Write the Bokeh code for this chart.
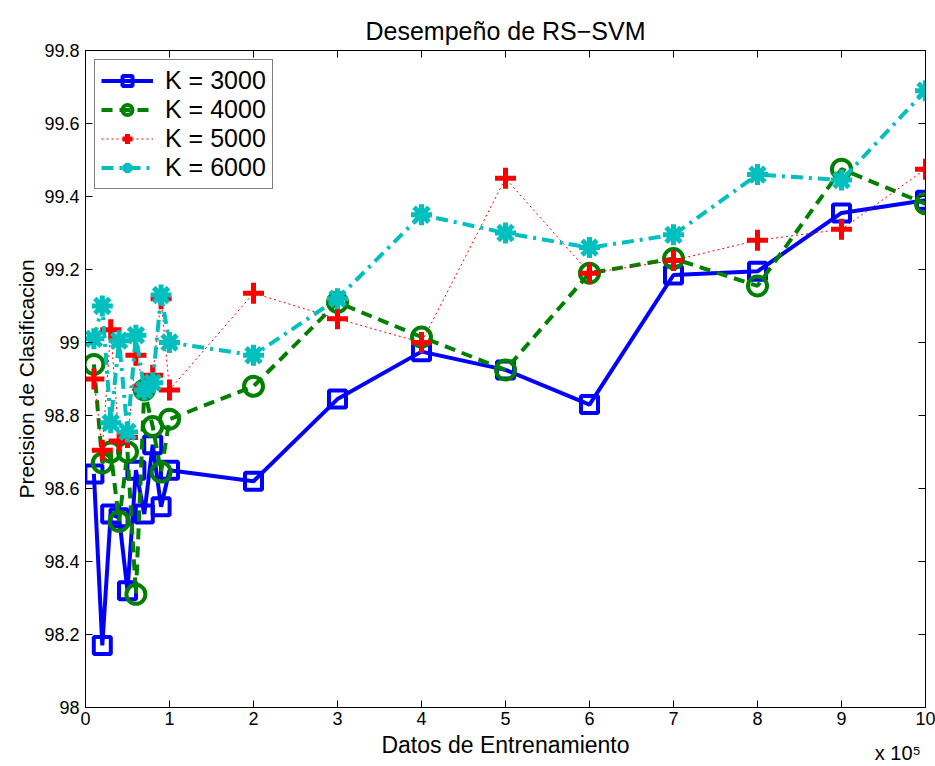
from bokeh.plotting import figure
from bokeh.models import (FixedTicker, CustomJSTickFormatter, LinearAxis,
                          Legend, LegendItem, Range1d)
from bokeh.embed import file_html
from bokeh.resources import INLINE

# ---------------- data ----------------
x_train = [1e4, 2e4, 3e4, 4e4, 5e4, 6e4, 7e4, 8e4, 9e4, 1e5,
           2e5, 3e5, 4e5, 5e5, 6e5, 7e5, 8e5, 9e5, 1e6]
k3000 = [98.64, 98.17, 98.53, 98.52, 98.32, 98.65, 98.53, 98.72, 98.55, 98.65,
         98.62, 98.845, 98.975, 98.925, 98.83, 99.185, 99.195, 99.355, 99.39]
k4000 = [98.94, 98.67, 98.70, 98.51, 98.70, 98.31, 98.87, 98.77, 98.645, 98.79,
         98.88, 99.11, 99.015, 98.925, 99.19, 99.23, 99.155, 99.475, 99.38]
k5000 = [98.90, 98.705, 99.035, 98.73, 98.74, 98.965, 98.88, 98.91, 99.12, 98.87,
         99.135, 99.065, 99.0, 99.45, 99.19, 99.225, 99.28, 99.31, 99.475]
k6000 = [99.01, 99.10, 98.78, 99.005, 98.755, 99.02, 98.87, 98.89, 99.13, 99.0,
         98.965, 99.12, 99.35, 99.30, 99.26, 99.295, 99.46, 99.445, 99.69]
series_names = ["K = 3000", "K = 4000", "K = 5000", "K = 6000"]
x_ticks = [0, 1e5, 2e5, 3e5, 4e5, 5e5, 6e5, 7e5, 8e5, 9e5, 1e6]
y_ticks = [98.0, 98.2, 98.4, 98.6, 98.8, 99.0, 99.2, 99.4, 99.6, 99.8]
exponent_text = "x 10⁵"

FONT = "Liberation Sans"

p = figure(width=935, height=766, output_backend="svg", toolbar_location=None,
           x_range=Range1d(0, 1e6), y_range=Range1d(98, 99.8),
           min_border_left=85, min_border_right=10, min_border_top=50,
           min_border_bottom=58)
p.background_fill_color = "white"
p.border_fill_color = "white"
p.outline_line_color = "black"
p.outline_line_width = 1
p.xgrid.visible = False
p.ygrid.visible = False

p.title.text = "Desempeño de RS−SVM"
p.title.align = "center"
p.title.vertical_align = "middle"
p.title.text_font = FONT
p.title.text_font_size = "25px"
p.title.text_font_style = "normal"
p.title.text_color = "black"
p.title.standoff = 10

xfmt = CustomJSTickFormatter(code="return String(Math.round(tick/1e5));")
yfmt = CustomJSTickFormatter(code="return String(Number(tick.toFixed(1)));")
nofmt = CustomJSTickFormatter(code="return '';")

for ax in p.xaxis:
    ax.ticker = FixedTicker(ticks=x_ticks)
    ax.formatter = xfmt
    ax.axis_label = "Datos de Entrenamiento"
for ax in p.yaxis:
    ax.ticker = FixedTicker(ticks=y_ticks)
    ax.formatter = yfmt
    ax.axis_label = "Precision de Clasificacion"

for ax in list(p.xaxis) + list(p.yaxis):
    ax.major_tick_in = 7
    ax.major_tick_out = 0
    ax.minor_tick_line_color = None
    ax.axis_line_color = "black"
    ax.major_tick_line_color = "black"
    ax.major_label_text_font = FONT
    ax.major_label_text_font_size = "18px"
    ax.major_label_text_color = "black"
    ax.axis_label_text_font = FONT
    ax.axis_label_text_font_style = "normal"
    ax.axis_label_text_color = "black"
p.xaxis.axis_label_text_font_size = "23px"
p.yaxis.axis_label_text_font_size = "21px"
p.xaxis.major_label_standoff = 4
p.xaxis.axis_label_standoff = 4
p.yaxis.major_label_standoff = 6
p.yaxis.axis_label_standoff = 3

# mirrored ticks on top and right
top_ax = LinearAxis(ticker=FixedTicker(ticks=x_ticks), formatter=nofmt,
                    major_tick_in=7, major_tick_out=0, minor_tick_line_color=None,
                    major_label_standoff=0, axis_line_color="black")
right_ax = LinearAxis(ticker=FixedTicker(ticks=y_ticks), formatter=nofmt,
                      major_tick_in=7, major_tick_out=0, minor_tick_line_color=None,
                      major_label_standoff=0, axis_line_color="black")
p.add_layout(top_ax, "above")
p.add_layout(right_ax, "right")

# exponent "x 10^5" as the single label of an invisible extra bottom axis
exp_fmt = CustomJSTickFormatter(args=dict(t=exponent_text), code="return t;")
exp_ax = LinearAxis(ticker=FixedTicker(ticks=[9.67e5]), formatter=exp_fmt,
                    major_tick_in=0, major_tick_out=0, minor_tick_line_color=None,
                    axis_line_color=None, major_tick_line_color=None,
                    major_label_standoff=-19, major_label_text_font=FONT,
                    major_label_text_font_size="20px", major_label_text_color="black")
p.add_layout(exp_ax, "below")

# ---------------- series ----------------
l1 = p.line(x_train, k3000, line_color="#0000FF", line_width=4)
m1 = p.scatter(x_train, k3000, marker="square", size=17, fill_color=None,
               line_color="#0000FF", line_width=4)
l2 = p.line(x_train, k4000, line_color="#008000", line_width=4, line_dash="11 7")
m2 = p.scatter(x_train, k4000, marker="circle", size=19, fill_color=None,
               line_color="#008000", line_width=4)
l3 = p.line(x_train, k5000, line_color="#FF0000", line_width=1, line_dash="2 3")
m3 = p.scatter(x_train, k5000, marker="cross", size=21, fill_color=None,
               line_color="#FF0000", line_width=5)
l4 = p.line(x_train, k6000, line_color="#00BFBF", line_width=4, line_dash="12 6 3 6")
m4 = p.scatter(x_train, k6000, marker="asterisk", size=21, fill_color=None,
               line_color="#00BFBF", line_width=5)

legend = Legend(items=[
    LegendItem(label=series_names[0], renderers=[l1, m1]),
    LegendItem(label=series_names[1], renderers=[l2, m2]),
    LegendItem(label=series_names[2], renderers=[l3, m3]),
    LegendItem(label=series_names[3], renderers=[l4, m4]),
], location="top_left")
legend.label_text_font = FONT
legend.label_text_font_size = "25px"
legend.label_text_color = "black"
legend.glyph_width = 52
legend.glyph_height = 25
legend.label_height = 25
legend.label_standoff = 12
legend.spacing = -3
legend.padding = 6
legend.margin = 9
legend.border_line_color = "black"
legend.border_line_width = 1
legend.background_fill_color = "white"
legend.background_fill_alpha = 1
p.add_layout(legend, "center")

open("out.html", "w").write(file_html(p, INLINE))
